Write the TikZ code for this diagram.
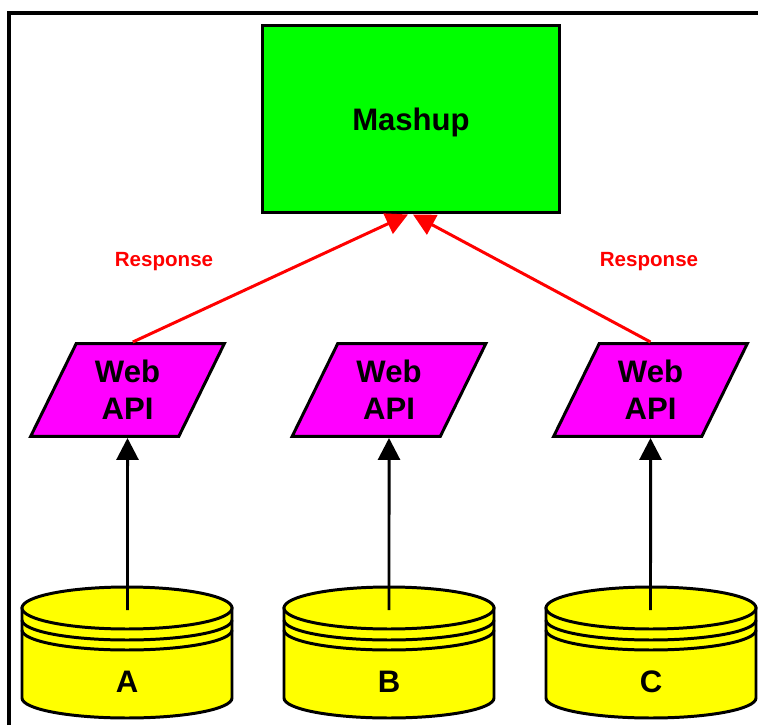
\documentclass[tikz,border=0pt]{standalone}
\usepackage{fontspec}
\setmainfont{Liberation Sans}
\usetikzlibrary{shapes.geometric,arrows.meta}

\definecolor{mashupgreen}{RGB}{0,255,0}
\definecolor{apimagenta}{RGB}{255,0,255}
\definecolor{drumyellow}{RGB}{255,255,0}
\definecolor{responsered}{RGB}{255,0,0}

\tikzset{
    frameline/.style={line width=2.5pt},
    mashupbox/.style={draw,line width=1.7pt,fill=mashupgreen,minimum width=5.96cm,minimum height=3.76cm,text depth=0pt,font=\bfseries\fontsize{17.7}{21}\selectfont},
    apibox/.style={draw,line width=1.7pt,fill=apimagenta,trapezium,trapezium stretches=true,trapezium left angle=64,trapezium right angle=116,minimum width=3.9cm,minimum height=1.86cm,inner sep=0pt,align=center,font=\bfseries\fontsize{17.7}{21}\selectfont},
    drum/.style={draw,line width=1.7pt,fill=drumyellow},
    drumring/.style={line width=1.7pt},
    drumlabel/.style={font=\bfseries\fontsize{17.7}{21}\selectfont},
    responselabel/.style={text=responsered,text depth=0pt,font=\bfseries\fontsize{11.7}{14}\selectfont},
    callarrow/.style={line width=1.7pt,-{Triangle[length=12.5pt,width=12.5pt]}},
    responsearrow/.style={responsered,line width=1.7pt,-{Triangle[length=12.5pt,width=12.5pt]}}
}

\begin{document}
\begin{tikzpicture}[x=0.02cm,y=0.02cm]
    \useasboundingbox (0,0) rectangle (758,725);
    %frame
    \draw[frameline] (9,0) -- (9,712) -- (758,712);
    %boxes
    \node[mashupbox] (mashup) at (411,606) {Mashup};
    \node[apibox] (apia) at (127.5,335) {Web\\API};
    \node[apibox] (apib) at (389,335) {Web\\API};
    \node[apibox] (apic) at (650.5,335) {Web\\API};
    %drums
    \draw[drum] (22,117) -- (22,27) arc (180:360:105 and 20) -- (232,117) -- cycle;
    \draw[drum] (127,117) ellipse (105 and 21);
    \draw[drumring] (22,105) arc (180:360:105 and 20);
    \draw[drumring] (22,95) arc (180:360:105 and 20);
    \draw[drum] (284,117) -- (284,27) arc (180:360:105 and 20) -- (494,117) -- cycle;
    \draw[drum] (389,117) ellipse (105 and 21);
    \draw[drumring] (284,105) arc (180:360:105 and 20);
    \draw[drumring] (284,95) arc (180:360:105 and 20);
    \draw[drum] (546,117) -- (546,27) arc (180:360:105 and 20) -- (756,117) -- cycle;
    \draw[drum] (651,117) ellipse (105 and 21);
    \draw[drumring] (546,105) arc (180:360:105 and 20);
    \draw[drumring] (546,95) arc (180:360:105 and 20);
    %labels
    \node[drumlabel] (a) at (127,43) {A};
    \node[drumlabel] (b) at (389,43) {B};
    \node[drumlabel] (c) at (651,43) {C};
    \node[responselabel] (left) at (164,466) {Response};
    \node[responselabel] (right) at (649,466) {Response};
    %arrows
    \coordinate (topa) at (127.5,115);
    \coordinate (topb) at (389,115);
    \coordinate (topc) at (650.5,115);
    \draw[callarrow] (topa) -- (apia.south);
    \draw[callarrow] (topb) -- (apib.south);
    \draw[callarrow] (topc) -- (apic.south);
    \draw[responsearrow] ([xshift=3pt]apia.north) -- ([xshift=-1.7pt]mashup.south);
    \draw[responsearrow] (apic.north) -- ([xshift=1.1pt]mashup.south);
\end{tikzpicture}
\end{document}
